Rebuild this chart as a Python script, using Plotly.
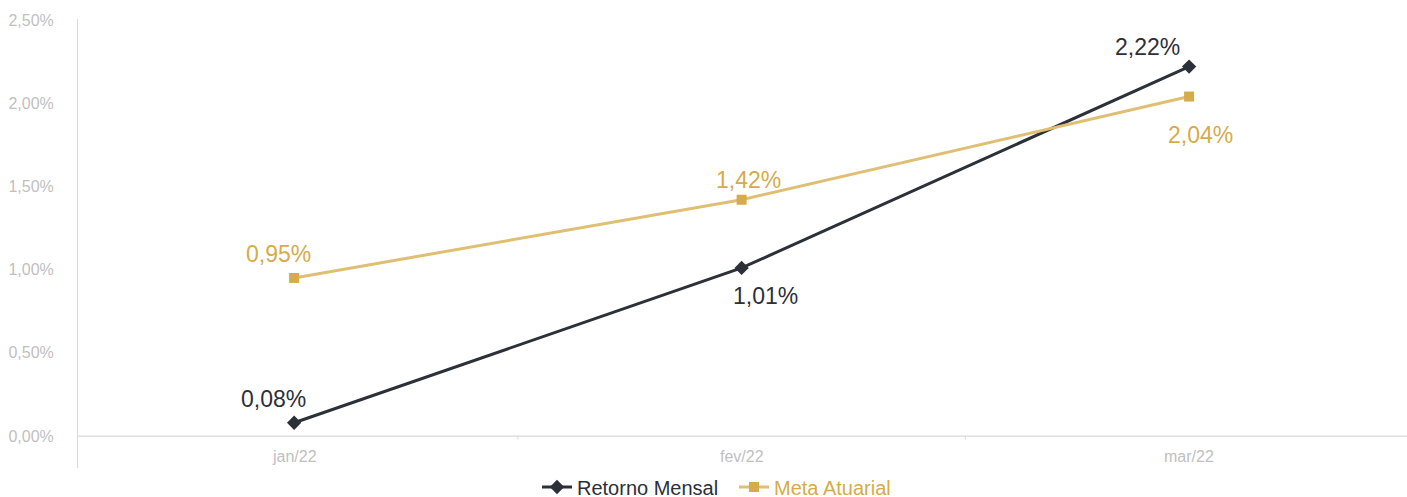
import plotly.graph_objects as go

categories = ["jan/22", "fev/22", "mar/22"]
retorno = [0.08, 1.01, 2.22]
meta = [0.95, 1.42, 2.04]
retorno_labels = ["0,08%", "1,01%", "2,22%"]
meta_labels = ["0,95%", "1,42%", "2,04%"]
y_tickvals = [0, 0.5, 1.0, 1.5, 2.0, 2.5]
y_ticktext = ["0,00%", "0,50%", "1,00%", "1,50%", "2,00%", "2,50%"]

DARK = "#2c3038"
GOLD_LINE = "#dfbf72"
GOLD = "#d6ab4a"
GREY = "#bfbfbf"
AXIS = "#d9d9d9"
FONT = "Liberation Sans, Arial, sans-serif"

W, H = 1407, 497
xi = list(range(len(categories)))

fig = go.Figure()
fig.add_trace(go.Scatter(
    x=xi, y=retorno, mode="lines+markers", name="Retorno Mensal",
    line=dict(color=DARK, width=3),
    marker=dict(symbol="diamond", size=11, color=DARK),
    legend="legend",
))
fig.add_trace(go.Scatter(
    x=xi, y=meta, mode="lines+markers", name="Meta Atuarial",
    line=dict(color=GOLD_LINE, width=3),
    marker=dict(symbol="square", size=10, color=GOLD),
    legend="legend2",
))

# data labels
ret_shift = [(-21, 24), (24, -28), (-42, 20)]
meta_shift = [(-16, 24), (7, 20), (11, -38)]
for i in xi:
    dx, dy = ret_shift[i]
    fig.add_annotation(x=xi[i], y=retorno[i], text=retorno_labels[i], showarrow=False,
                       xshift=dx, yshift=dy, font=dict(size=23, color=DARK, family=FONT))
    dx, dy = meta_shift[i]
    fig.add_annotation(x=xi[i], y=meta[i], text=meta_labels[i], showarrow=False,
                       xshift=dx, yshift=dy, font=dict(size=23, color=GOLD, family=FONT))

# x category labels
for i in xi:
    fig.add_annotation(x=xi[i], y=0, text=categories[i], showarrow=False, yshift=-20,
                       font=dict(size=16, color=GREY, family=FONT))

# category boundary ticks
for b in [0.5, 1.5]:
    fig.add_annotation(x=b, y=0, text="", showarrow=True, ax=0, ay=5, arrowhead=0,
                       arrowwidth=1, arrowcolor=AXIS)

# x axis line at zero
fig.add_shape(type="line", x0=-0.5, x1=2.49, y0=0, y1=0, xref="x", yref="y",
              line=dict(color=AXIS, width=1.3), layer="below")

fig.update_layout(
    width=W, height=H,
    margin=dict(l=0, r=0, t=0, b=0, autoexpand=False),
    paper_bgcolor="white", plot_bgcolor="white",
    font=dict(family=FONT),
    xaxis=dict(domain=[78 / W, 1], range=[-0.483, 2.487], showgrid=False, zeroline=False,
               showticklabels=False, ticks="", showline=False, automargin=False),
    yaxis=dict(domain=[29 / H, 1 - 19 / H], range=[-0.192, 2.506], showgrid=False, zeroline=False,
               tickvals=y_tickvals, ticktext=y_ticktext,
               tickfont=dict(size=16, color=GREY, family=FONT),
               showline=True, linecolor=AXIS, linewidth=1, ticks="", ticklabelstandoff=20,
               automargin=False),
    legend=dict(orientation="h", x=724 / W, xanchor="right", y=10 / H, yanchor="middle",
                font=dict(size=20, color=DARK, family=FONT), itemwidth=30,
                bgcolor="rgba(0,0,0,0)"),
    legend2=dict(orientation="h", x=734 / W, xanchor="left", y=10 / H, yanchor="middle",
                 font=dict(size=20, color=GOLD, family=FONT), itemwidth=30,
                 bgcolor="rgba(0,0,0,0)"),
    showlegend=True,
)

fig.write_html("out.html", config={"displayModeBar": False, "responsive": False},
               post_script="document.body.style.margin='0';")
